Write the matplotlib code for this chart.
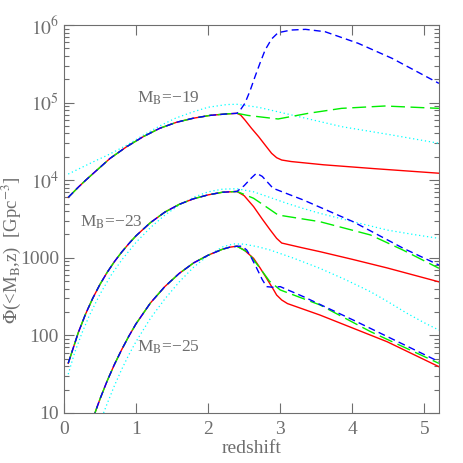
import numpy as np
import matplotlib
matplotlib.use('Agg')
import matplotlib.pyplot as plt

# --- M_B = -19 ---
z19 = [0.06, 0.20, 0.30, 0.41, 0.64, 0.87, 1.10, 1.33, 1.56, 1.79, 2.03, 2.24, 2.40]
phi19 = [6000, 8130, 9950, 12300, 19100, 27000, 36400, 46700, 55700, 62800, 68500, 71300, 72800]
z19_red = [2.45, 2.51, 2.60, 2.70, 2.79, 2.88, 2.95, 3.02, 3.15, 3.60, 4.30, 5.20]
phi19_red = [69200, 59700, 46800, 36400, 28400, 22200, 19500, 18200, 17400, 15800, 14100, 12300]
z19_green = [2.55, 2.70, 2.97, 3.39, 3.85, 4.45, 5.20]
phi19_green = [68400, 65800, 61500, 72800, 84300, 90400, 84300]
z19_blue = [2.45, 2.51, 2.58, 2.65, 2.72, 2.79, 2.88, 2.97, 3.15, 3.35, 3.62, 4.08, 4.55, 5.20]
phi19_blue = [81300, 98000, 141000, 216000, 324000, 476000, 661000, 796000, 861000, 879000,
              820000, 581000, 372000, 177000]
z19_cyan = [0.06, 0.41, 0.60, 0.87, 1.10, 1.33, 1.55, 1.79, 2.00, 2.26, 2.40, 2.70, 3.16,
            3.85, 4.55, 5.20]
phi19_cyan = [12000, 17300, 20900, 28200, 38000, 50100, 63100, 75900, 87100, 94400, 95100,
              86900, 69200, 49000, 38200, 29900]

# --- M_B = -23 ---
z23 = [0.06, 0.20, 0.30, 0.40, 0.50, 0.60, 0.70, 0.80, 0.90, 1.00, 1.20, 1.40, 1.60, 1.80,
       2.00, 2.20, 2.40]
phi23 = [43.7, 109, 188, 301, 454, 649, 891, 1180, 1520, 1920, 2840, 3880, 4890, 5770,
         6470, 7000, 7160]
z23_red = [2.50, 2.63, 2.75, 2.86, 2.95, 3.02, 3.30, 3.55, 4.00, 4.48, 5.20]
phi23_red = [6310, 4570, 3160, 2290, 1780, 1550, 1350, 1200, 955, 741, 490]
z23_green = [2.63, 2.80, 2.97, 3.55, 4.25, 4.70, 5.20]
phi23_green = [5850, 4570, 3560, 2920, 1970, 1260, 733]
z23_blue = [2.50, 2.60, 2.67, 2.75, 2.90, 3.32, 4.01, 4.71, 5.20]
phi23_blue = [8510, 10700, 12300, 11200, 7870, 5560, 2920, 1320, 807]
z23_cyan = [0.06, 0.15, 0.25, 0.35, 0.50, 0.65, 0.80, 1.00, 1.20, 1.40, 1.60, 1.80, 2.00,
            2.20, 2.40, 2.63, 2.85, 3.09, 3.30, 3.55, 4.01, 4.48, 4.85, 5.20]
phi23_cyan = [31.6, 60.3, 107, 178, 339, 589, 933, 1580, 2450, 3550, 4790, 6030, 7080,
              7670, 7760, 7080, 6030, 5040, 4370, 3740, 2920, 2280, 1995, 1780]

# --- M_B = -25 ---
z25 = [0.40, 0.50, 0.60, 0.70, 0.80, 0.90, 1.00, 1.20, 1.40, 1.60, 1.80, 2.00, 2.20, 2.30, 2.40]
phi25 = [8.36, 15.1, 25.9, 42.1, 65.2, 97.5, 141, 262, 426, 630, 861, 1080, 1290, 1370, 1410]
z25_red = [2.50, 2.63, 2.72, 2.81, 2.90, 2.95, 3.02, 3.10, 3.55, 4.48, 5.20]
phi25_red = [1260, 984, 741, 545, 398, 331, 286, 257, 183, 83, 39.5]
z25_green = [2.55, 2.72, 2.85, 3.00, 3.55, 4.25, 5.20]
phi25_green = [1175, 733, 501, 385, 247, 112, 43.6]
z25_blue = [2.47, 2.535, 2.60, 2.674, 2.75, 2.81, 2.90, 3.00, 3.32, 4.01, 5.20]
phi25_blue = [1410, 1260, 1000, 733, 525, 425, 417, 425, 316, 158, 45.9]
z25_cyan = [0.55, 0.60, 0.70, 0.80, 0.90, 1.00, 1.20, 1.40, 1.60, 1.80, 2.00, 2.20, 2.35,
            2.50, 2.70, 2.86, 3.20, 3.55, 3.90, 4.25, 4.50, 4.76, 5.00, 5.20]
phi25_cyan = [10, 13.2, 22.4, 36.3, 56.2, 83.2, 166, 295, 490, 759, 1070, 1380, 1510,
              1500, 1380, 1260, 977, 731, 525, 366, 269, 192, 145, 117]

labels = ['M$_{\\rm B}$=\u221219', 'M$_{\\rm B}$=\u221223', 'M$_{\\rm B}$=\u221225']
label_pos = [(1.01, 115000), (0.22, 2830), (1.01, 70)]

grey = '#6e6e6e'
plt.rcParams['font.family'] = ['Liberation Serif', 'DejaVu Serif']
plt.rcParams['mathtext.fontset'] = 'stix'

fig = plt.figure(figsize=(4.63, 4.63), dpi=100)
ax = fig.add_axes([0.138, 0.108, 0.810, 0.838])

groups = [
    (z19, phi19, z19_red, phi19_red, z19_green, phi19_green, z19_blue, phi19_blue, z19_cyan, phi19_cyan),
    (z23, phi23, z23_red, phi23_red, z23_green, phi23_green, z23_blue, phi23_blue, z23_cyan, phi23_cyan),
    (z25, phi25, z25_red, phi25_red, z25_green, phi25_green, z25_blue, phi25_blue, z25_cyan, phi25_cyan),
]

for g in groups:
    zc, pc, zr, pr, zg, pg, zb, pb, zcy, pcy = g
    ax.plot(zcy, pcy, color='#00ffff', lw=0.9, dashes=(1, 2.2))
    ax.plot(zc + zr, pc + pr, color='#ff0000', lw=1.0)
    ax.plot(zc + zg, pc + pg, color='#00ee00', lw=1.0, dashes=(10, 4))
    ax.plot(zc + zb, pc + pb, color='#0000ff', lw=1.0, dashes=(5, 3))

for txt, (x, y) in zip(labels, label_pos):
    ax.text(x, y, txt, color=grey, fontsize=12.5, va='center', ha='left')

ax.set_yscale('log')
ax.set_xlim(0, 5.2)
ax.set_ylim(10, 1e6)
ax.set_xticks([0, 1, 2, 3, 4, 5])
ax.set_yticks([10, 100, 1000, 1e4, 1e5, 1e6])
ax.set_yticklabels(['10', '100', '1000', '$10^4$', '$10^5$', '$10^6$'])
ax.tick_params(which='both', direction='in', top=True, right=True, colors=grey,
               labelsize=14)
ax.tick_params(which='major', length=7, width=0.8)
ax.tick_params(which='minor', length=3.5, width=0.8)
ax.tick_params(axis='x', pad=6)
for s in ax.spines.values():
    s.set_color(grey)
    s.set_linewidth(0.8)

ax.set_xlabel('redshift', color=grey, fontsize=14, labelpad=1)
ax.set_ylabel('$\\Phi$(<M$_{\\rm B}$,z)  [Gpc$^{-3}$]', color=grey, fontsize=13.5)
ax.yaxis.set_label_coords(-0.11, 0.42)

fig.savefig('out.png', dpi=100)
